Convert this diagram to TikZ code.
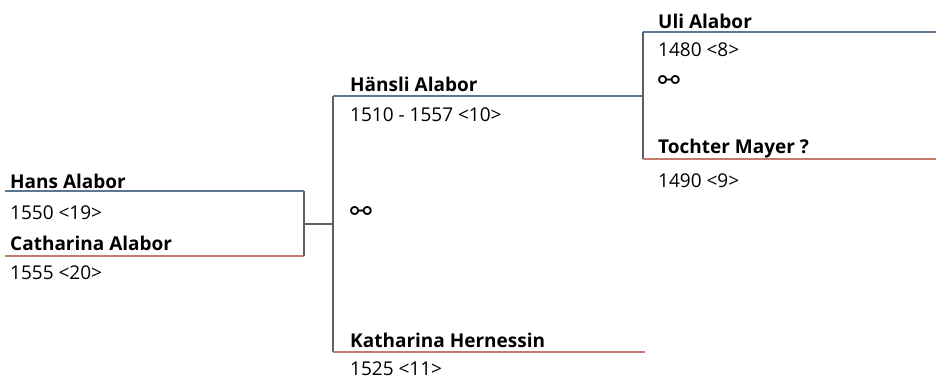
\documentclass[tikz,border=0pt]{standalone}
\usepackage{fontspec}
\setmainfont{Open Sans}
\newfontfamily\symfont{DejaVu Sans}
\usepackage{tikz}

\definecolor{malecol}{HTML}{5E7595}
\definecolor{femalecol}{HTML}{C47B6B}
\definecolor{linkcol}{HTML}{5F5D66}

\begin{document}
\begin{tikzpicture}[x=1pt,y=1pt]
            \tikzstyle{personname}=[anchor=west,inner sep=0pt,font=\fontsize{19}{22}\selectfont\bfseries]
            \tikzstyle{persondates}=[anchor=west,inner sep=0pt,font=\fontsize{19}{22}\selectfont]
            \tikzstyle{marriage}=[anchor=west,inner sep=0pt,font=\fontsize{26}{30}\selectfont\symfont]
            \tikzstyle{maleline}=[draw=malecol,line width=2pt]
            \tikzstyle{femaleline}=[draw=femalecol,line width=2pt]
            \tikzstyle{descent}=[draw=linkcol,line width=2.2pt]
            \useasboundingbox (0,0) rectangle (936,-378);
            % generation 1
            \node[personname] (hans) at (10,-181) {Hans Alabor};
            \node[persondates] (hansd) at (10,-213) {1550 <19>};
            \node[personname] (cath) at (10,-243) {Catharina Alabor};
            \node[persondates] (cathd) at (10,-273) {1555 <20>};
            \coordinate (hansl) at (5,-191);
            \coordinate (hansr) at (304,-191);
            \coordinate (cathl) at (5,-256);
            \coordinate (cathr) at (304,-256);
            \coordinate (couple1) at (304,-224);
            % generation 2
            \node[personname] (haensli) at (350,-84) {Hänsli Alabor};
            \node[persondates] (haenslid) at (350,-115) {1510 - 1557 <10>};
            \node[marriage] (u1) at (350,-214) {⚯};
            \node[personname] (kath) at (350,-340) {Katharina Hernessin};
            \node[persondates] (kathd) at (350,-369) {1525 <11>};
            \coordinate (haenslil) at (333,-96);
            \coordinate (haenslir) at (643,-96);
            \coordinate (kathl) at (333,-352);
            \coordinate (kathr) at (645,-352);
            \coordinate (parents1) at (333,-224);
            % generation 3
            \node[personname] (uli) at (658,-21) {Uli Alabor};
            \node[persondates] (ulid) at (658,-50) {1480 <8>};
            \node[marriage] (u2) at (658,-83) {⚯};
            \node[personname] (tochter) at (658,-149) {Tochter Mayer ?};
            \node[persondates] (tochterd) at (658,-181) {1490 <9>};
            \coordinate (ulil) at (643,-32);
            \coordinate (ulir) at (936,-32);
            \coordinate (tochterl) at (643,-159);
            \coordinate (tochterr) at (936,-159);
            % lines
            \draw[maleline] (hansl) -- (hansr);
            \draw[femaleline] (cathl) -- (cathr);
            \draw[descent] (hansr) -- (cathr);
            \draw[descent] (couple1) -- (parents1);
            \draw[descent] (haenslil) -- (kathl);
            \draw[maleline] (haenslil) -- (haenslir);
            \draw[femaleline] (kathl) -- (kathr);
            \draw[descent] (ulil) -- (tochterl);
            \draw[maleline] (ulil) -- (ulir);
            \draw[femaleline] (tochterl) -- (tochterr);
        \end{tikzpicture}
\end{document}
